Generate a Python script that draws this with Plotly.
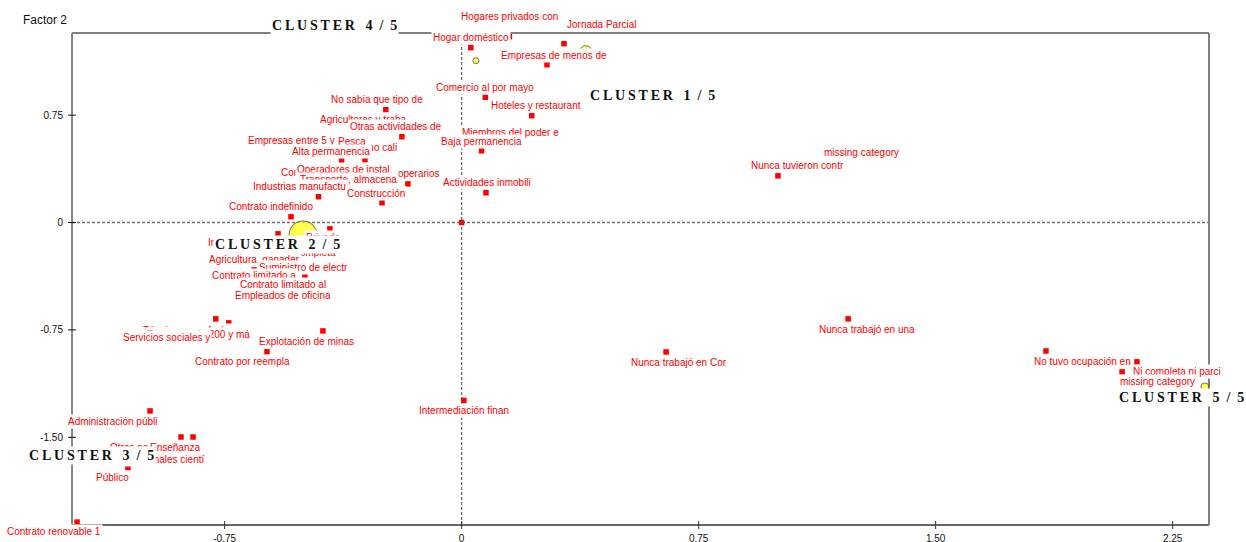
import plotly.graph_objects as go

# ---------------------------------------------------------------------------
# Factorial plane (Factor 1 x Factor 2): modalities and cluster centroids
# ---------------------------------------------------------------------------
labels = [
    "Hogares privados con", "Jornada Parcial", "Hogar doméstico", "Empresas de menos de",
    "Comercio al por mayo", "Hoteles y restaurant", "No sabia que tipo de",
    "Agricultores y traba", "Otras actividades de", "Trabajadores no cali",
    "Empresas entre 5 y 4", "Pesca", "Alta permanencia", "Contrato a plazo fij",
    "Oficiales, operarios", "Operadores de instal", "Transporte, almacena",
    "Industrias manufactu", "Construcción", "Miembros del poder e", "Baja permanencia",
    "Actividades inmobili", "Contrato indefinido", "Independiente", "Privado",
    "Jornada completa", "Agricultura, ganader", "Suministro de electr",
    "Contrato limitado a", "Contrato limitado al", "Empleados de oficina",
    "Técnicos y profesion", "Empresas de 200 y má", "Servicios sociales y",
    "Explotación de minas", "Contrato por reempla", "Administración públi",
    "Otros no clasificado", "Enseñanza", "Profesionales cientí", "Público",
    "Contrato renovable 1", "Intermediación finan", "Nunca trabajó en Cor",
    "Nunca trabajó en una", "Nunca tuvieron contr", "missing category",
    "No tuvo ocupación en", "Ni completa ni parci", "missing category", "",
]
factor1 = [
    0.151, 0.324, 0.029, 0.270,
    0.075, 0.222, -0.240,
    -0.309, -0.189, -0.306,
    -0.512, -0.347, -0.380, -0.452,
    -0.170, -0.376, -0.347,
    -0.453, -0.252, 0.121, 0.063,
    0.077, -0.540, -0.581, -0.417,
    -0.524, -0.657, -0.496,
    -0.657, -0.566, -0.512,
    -0.876, -0.737, -0.778,
    -0.439, -0.616, -0.986,
    -0.888, -0.850, -1.018, -1.056,
    -1.217, 0.007, 0.647,
    1.223, 1.001, 1.264,
    1.849, 2.137, 2.090, 0.0,
]
factor2 = [
    1.298, 1.249, 1.221, 1.102,
    0.875, 0.746, 0.788,
    0.648, 0.599, 0.438,
    0.508, 0.494, 0.431, 0.277,
    0.270, 0.298, 0.222,
    0.180, 0.138, 0.557, 0.501,
    0.208, 0.040, -0.079, -0.044,
    -0.149, -0.331, -0.379,
    -0.442, -0.512, -0.470,
    -0.820, -0.701, -0.673,
    -0.757, -0.903, -1.316,
    -1.498, -1.498, -1.603, -1.714,
    -2.092, -1.243, -0.904,
    -0.673, 0.326, 0.487,
    -0.897, -0.973, -1.043, 0.0,
]

cluster_names = ["CLUSTER 1 / 5", "CLUSTER 2 / 5", "CLUSTER 3 / 5", "CLUSTER 4 / 5", "CLUSTER 5 / 5"]
cluster_f1 = [0.393, -0.502, -1.113, 0.045, 2.352]
cluster_f2 = [1.193, -0.086, -1.623, 1.130, -1.148]

x_ticks = [-0.75, 0, 0.75, 1.50, 2.25]
x_tick_text = ["-0.75", "0", "0.75", "1.50", "2.25"]
y_ticks = [0.75, 0, -0.75, -1.50]
y_tick_text = ["0.75", "0", "-0.75", "-1.50"]

# ---------------------------------------------------------------------------
# Layout / styling
# ---------------------------------------------------------------------------
W, H = 1246, 542
X_RANGE = [-1.233, 2.365]
Y_RANGE = [-2.1125, 1.3236]

# label placement around each point (pixels: right, up)
label_offsets = [
    (0, 20), (37, 19), (0, 10), (7, 9),
    (0, 10), (4, 10), (-9, 10),
    (0, 10), (-6, 10), (-13, 12),
    (-4, 9), (0, 10), (-11, 9), (4, 10),
    (-11, 10), (1, 10), (-3, 11),
    (-19, 10), (-6, 9), (11, 10), (0, 9),
    (1, 10), (-20, 10), (-38, -9), (-7, -9),
    (0, -9), (0, 10), (-1, 9),
    (0, 10), (0, 11), (-17, -6),
    (4, 9), (-30, -12), (-49, -19),
    (-16, -11), (-24, -10), (-37, -11),
    (-27, -10), (-18, -10), (21, -7), (-15, -10),
    (-23, -9), (0, -10), (13, -11),
    (19, -11), (20, 10), (0, 0),
    (37, -11), (40, -10), (35, -10), (0, 0),
]
cluster_label_offsets = [(67, -44), (-26, -10), (-18, -1), (-141, 35), (-23, -11)]
cluster_diam = [12, 28, 10, 6, 8]

LABEL_FONT = dict(family="Liberation Sans, Arial, sans-serif", size=10, color="#ff0000")
CLUSTER_FONT = dict(family="Liberation Serif, Times New Roman, serif", size=14,
                    color="#111111", weight="bold")
NB = "\u00a0"
THIN = "\u2009"


def spaced(name):
    word, rest = name.split(" ", 1)
    a, b = rest.replace(" ", "").split("/")
    return THIN.join(word) + NB * 3 + a + NB * 2 + "/" + NB * 2 + b


fig = go.Figure()

# modalities
fig.add_trace(go.Scatter(
    x=factor1, y=factor2, mode="markers",
    marker=dict(symbol="square", size=5.5, color="#ff0000", line=dict(width=0)),
    hoverinfo="skip", showlegend=False,
))

# cluster centroids
fig.add_trace(go.Scatter(
    x=cluster_f1, y=cluster_f2, mode="markers",
    marker=dict(symbol="circle", size=cluster_diam, color="#ffff00",
                line=dict(color="#333333", width=1)),
    hoverinfo="skip", showlegend=False,
))

annotations = []
for text, fx, fy, (dx, dy) in zip(labels, factor1, factor2, label_offsets):
    if not text:
        continue
    annotations.append(dict(
        x=fx, y=fy, xref="x", yref="y", text=text, showarrow=False,
        xshift=dx, yshift=dy, xanchor="center", yanchor="middle",
        font=LABEL_FONT, bgcolor="white", borderpad=1,
    ))

for name, fx, fy, (dx, dy) in zip(cluster_names, cluster_f1, cluster_f2, cluster_label_offsets):
    annotations.append(dict(
        x=fx, y=fy, xref="x", yref="y", text=spaced(name), showarrow=False,
        xshift=dx, yshift=dy, xanchor="center", yanchor="middle",
        font=CLUSTER_FONT, bgcolor="white", borderpad=1,
    ))

annotations.append(dict(
    x=0, y=1, xref="paper", yref="paper", text="Factor 2", showarrow=False,
    xanchor="center", yanchor="middle", xshift=-27, yshift=13,
    font=dict(family="Liberation Sans, Arial, sans-serif", size=12, color="#111111"),
))

shapes = []
# dashed axes through the origin
shapes.append(dict(type="line", xref="x", yref="paper", x0=0, x1=0, y0=0, y1=1,
                   line=dict(color="#6e6e6e", width=1.3, dash="3px,2px"), layer="below"))
shapes.append(dict(type="line", xref="paper", yref="y", x0=0, x1=1, y0=0, y1=0,
                   line=dict(color="#6e6e6e", width=1.3, dash="3px,2px"), layer="below"))
# frame
shapes.append(dict(type="line", xref="paper", yref="paper", x0=0, x1=0, y0=0, y1=1,
                   line=dict(color="#111111", width=1), layer="below"))
shapes.append(dict(type="line", xref="paper", yref="paper", x0=0, x1=1, y0=0, y1=0,
                   line=dict(color="#333333", width=1.5), layer="below"))
shapes.append(dict(type="line", xref="paper", yref="paper", x0=0, x1=1, y0=1, y1=1,
                   line=dict(color="#808080", width=2), layer="below"))
shapes.append(dict(type="line", xref="paper", yref="paper", x0=1, x1=1, y0=0, y1=1,
                   line=dict(color="#808080", width=2), layer="below"))
# cross ticks
for v in y_ticks:
    shapes.append(dict(type="line", xref="paper", yref="y", xsizemode="pixel", xanchor=0,
                       x0=-4, x1=4, y0=v, y1=v, line=dict(color="#111111", width=1)))
for v in x_ticks:
    shapes.append(dict(type="line", xref="x", yref="paper", ysizemode="pixel", yanchor=0,
                       x0=v, x1=v, y0=-4, y1=4, line=dict(color="#333333", width=1)))

TICK_FONT = dict(family="Liberation Sans, Arial, sans-serif", size=10, color="#111111")
fig.update_layout(
    width=W, height=H,
    margin=dict(l=72, r=W - 1209, t=33, b=H - 525, autoexpand=False),
    paper_bgcolor="white", plot_bgcolor="white",
    showlegend=False,
    annotations=annotations, shapes=shapes,
    xaxis=dict(range=X_RANGE, showgrid=False, zeroline=False, showline=False,
               tickvals=x_ticks, ticktext=x_tick_text, ticks="", automargin=False,
               tickfont=TICK_FONT, ticklabelstandoff=6, fixedrange=True),
    yaxis=dict(range=Y_RANGE, showgrid=False, zeroline=False, showline=False,
               tickvals=y_ticks, ticktext=y_tick_text, ticks="", automargin=False,
               tickfont=TICK_FONT, ticklabelstandoff=8, fixedrange=True),
)

fig.write_html("out.html")
